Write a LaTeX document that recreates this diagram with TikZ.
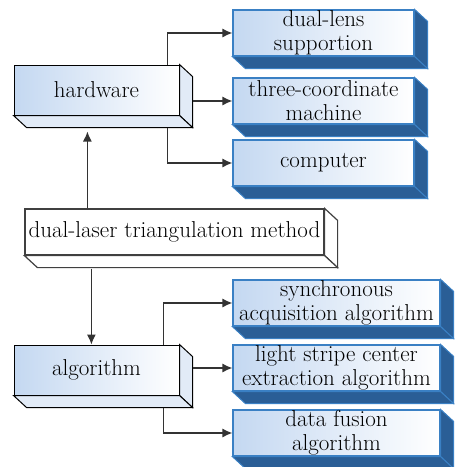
\documentclass[tikz,border=0pt]{standalone}
\usepackage{tikz}
\usetikzlibrary{arrows.meta}

\definecolor{boxblue}{RGB}{196,216,241}
\definecolor{edgeblue}{RGB}{58,128,196}
\definecolor{sideblue}{RGB}{42,94,150}
\definecolor{sidelight}{RGB}{226,235,247}

% the two visible side faces of a box, pushed back to the lower right
\newcommand{\boxsides}[2]{%
  \filldraw[#2] (#1.north east) -- ([shift={(13,12)}]#1.north east) -- ([shift={(13,12)}]#1.south east) -- (#1.south east) -- cycle;
  \filldraw[#2] (#1.south west) -- (#1.south east) -- ([shift={(13,12)}]#1.south east) -- ([shift={(13,12)}]#1.south west) -- cycle;
}

\begin{document}
\begin{tikzpicture}[x=1pt, y=-1pt,
	every node/.style={font=\fontsize{23}{24}\selectfont, align=center, inner sep=0pt},
	hwbox/.style={rectangle, draw=black, line width=1pt, left color=boxblue, right color=white, minimum width=165pt, minimum height=50pt},
	mainbox/.style={rectangle, draw=black!75, line width=1.2pt, fill=white, minimum width=299pt, minimum height=46pt},
	itembox/.style={rectangle, draw=edgeblue, line width=1.2pt, left color=boxblue, right color=white, minimum height=46pt},
	hwside/.style={draw=black, line width=1pt, fill=sidelight},
	mainside/.style={draw=black!75, line width=1.2pt, fill=white},
	itemside/.style={draw=edgeblue, line width=1pt, fill=sideblue},
	arr/.style={draw=black!80, line width=1.2pt, -{Latex[length=10pt,width=9pt]}}]
	\useasboundingbox (0,0) rectangle (464,467);
	\node[hwbox]   (hw)  at (96.5, 90)   {hardware};
	\node[mainbox] (tri) at (174.5, 232) {dual-laser triangulation method};
	\node[hwbox]   (alg) at (96.5, 370)  {algorithm};
	\node[itembox, minimum width=181pt] (lens)   at (323.5, 33)  {dual-lens\\supportion};
	\node[itembox, minimum width=181pt] (cmm)    at (323.5, 101) {three-coordinate\\machine};
	\node[itembox, minimum width=181pt] (pc)     at (323.5, 163) {computer};
	\node[itembox, minimum width=207pt] (sync)   at (336.5, 303) {synchronous\\acquisition algorithm};
	\node[itembox, minimum width=207pt] (stripe) at (336.5, 368) {light stripe center\\extraction algorithm};
	\node[itembox, minimum width=207pt] (fuse)   at (336.5, 433) {data fusion\\algorithm};
	\boxsides{hw}{hwside}
	\boxsides{alg}{hwside}
	\boxsides{tri}{mainside}
	\boxsides{lens}{itemside}
	\boxsides{cmm}{itemside}
	\boxsides{pc}{itemside}
	\boxsides{sync}{itemside}
	\boxsides{stripe}{itemside}
	\boxsides{fuse}{itemside}
	\draw[arr] ([xshift=-12pt]hw.north east) |- (lens.west);
	\draw[arr] ([xshift=13pt]hw.east |- cmm.west) -- (cmm.west);
	\draw[arr] ([shift={(-12,12)}]hw.south east) |- (pc.west);
	\draw[arr] ([xshift=63pt]tri.north west) -- ([shift={(63,16)}]tri.north west |- hw.south);
	\draw[arr] ([shift={(67,13)}]tri.south west) -- ([xshift=67pt]tri.south west |- alg.north);
	\draw[arr] ([xshift=-16pt]alg.north east) |- (sync.west);
	\draw[arr] ([xshift=13pt]alg.east |- stripe.west) -- (stripe.west);
	\draw[arr] ([shift={(-16,12)}]alg.south east) |- (fuse.west);
\end{tikzpicture}
\end{document}
